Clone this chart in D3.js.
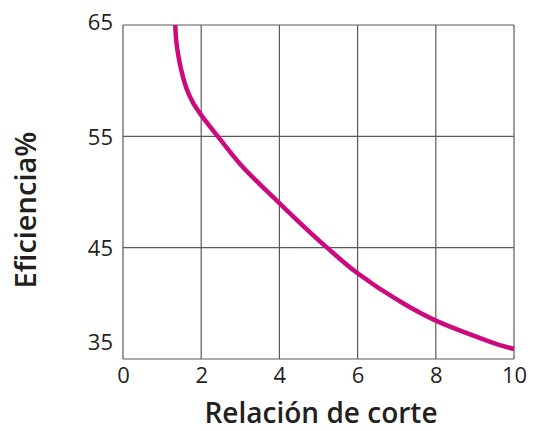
<!DOCTYPE html>
<html>
<head>
<meta charset="utf-8">
<script src="https://cdn.jsdelivr.net/npm/d3@7"></script>
<style>
  html, body { margin: 0; padding: 0; background: #fff; }
  svg { display: block; }
  text { font-family: "Open Sans", "Noto Sans", sans-serif; fill: #231f20; }
</style>
</head>
<body>
<svg id="chart" width="535" height="431"></svg>
<script>
// Cutting ratio vs. efficiency curve
const ratio      = [1.337, 1.36, 1.42, 1.51, 1.64, 1.8, 2.0, 2.23, 2.47, 3.0, 4.0, 5.22, 6.0, 7.0, 8.0, 9.0, 9.6, 10.0];
const efficiency = [65.0, 63.65, 62.15, 60.65, 59.15, 57.95, 56.9, 55.85, 54.8, 52.5, 49.0, 45.0, 42.7, 40.35, 38.45, 37.05, 36.3, 35.9];

const xTicks = [0, 2, 4, 6, 8, 10];
const yTicks = [35, 45, 55, 65];

const xTitle = "Relación de corte";
const yTitle = "Eficiencia%";

const svg = d3.select("#chart");
const margin = { left: 123, right: 21, top: 25, bottom: 72 };
const W = 535, H = 431;

const x = d3.scaleLinear().domain([0, 10]).range([margin.left, W - margin.right]);
const y = d3.scaleLinear().domain([35, 65]).range([H - margin.bottom, margin.top]);

const grid = svg.append("g").attr("stroke", "#5a5a5a").attr("stroke-width", 1.2).attr("fill", "none");

// vertical grid lines, including the frame edges
grid.selectAll("line.v").data(xTicks).join("line")
  .attr("class", "v")
  .attr("x1", d => x(d)).attr("x2", d => x(d))
  .attr("y1", y(35)).attr("y2", y(65));

// horizontal grid lines
grid.selectAll("line.h").data(yTicks).join("line")
  .attr("class", "h")
  .attr("x1", x(0)).attr("x2", x(10))
  .attr("y1", d => y(d)).attr("y2", d => y(d));

// x axis labels
const xAxis = svg.append("g")
  .attr("transform", `translate(0,${y(35)})`)
  .call(d3.axisBottom(x).tickValues(xTicks).tickSize(0).tickPadding(8).tickFormat(d3.format("d")));
xAxis.select(".domain").remove();
xAxis.selectAll("text").style("font-size", "22px").attr("fill", "#231f20").attr("dy", "0.72em");

// y axis labels
const yAxis = svg.append("g")
  .attr("transform", `translate(${x(0)},0)`)
  .call(d3.axisLeft(y).tickValues(yTicks).tickSize(0).tickPadding(10).tickFormat(d3.format("d")));
yAxis.select(".domain").remove();
yAxis.selectAll("text").style("font-size", "22px").attr("fill", "#231f20")
  .attr("dy", d => d === 35 ? "-0.45em" : (d === 65 ? "0.22em" : "0.35em"));

// efficiency curve (monotone in y: vertical at the top end)
const pts = ratio.map((r, i) => [r, efficiency[i]]);
const line = d3.line().x(d => x(d[0])).y(d => y(d[1])).curve(d3.curveMonotoneY);
svg.append("path")
  .datum(pts)
  .attr("d", line)
  .attr("fill", "none")
  .attr("stroke", "#cc0a7e")
  .attr("stroke-width", 4.5)
  .attr("stroke-linecap", "butt");

// axis titles
svg.append("text")
  .attr("x", 321).attr("y", 423)
  .attr("text-anchor", "middle")
  .style("font-size", "28px").style("font-weight", 600)
  .text(xTitle);

svg.append("text")
  .attr("transform", "translate(36,210) rotate(-90)")
  .attr("text-anchor", "middle")
  .style("font-size", "29px").style("font-weight", 600)
  .text(yTitle);
</script>
</body>
</html>
